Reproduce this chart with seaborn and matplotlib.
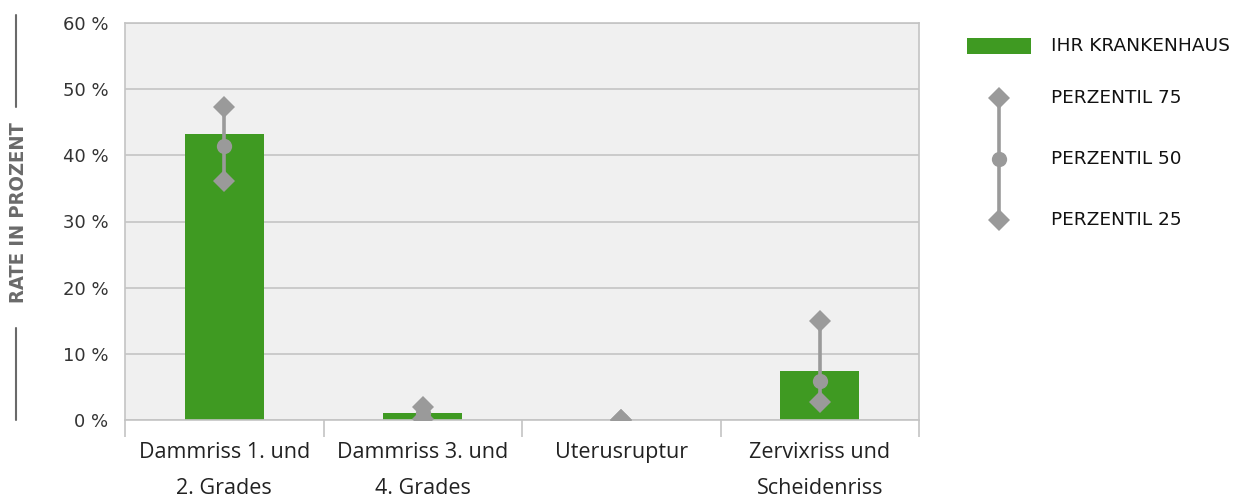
import matplotlib
matplotlib.use("Agg")
import matplotlib.pyplot as plt
from matplotlib.lines import Line2D
from matplotlib.patches import Rectangle
import seaborn as sns
import pandas as pd

categories = ["Dammriss 1. und\n2. Grades", "Dammriss 3. und\n4. Grades",
              "Uterusruptur", "Zervixriss und\nScheidenriss"]
hospital = [43.2, 1.1, 0.0, 7.4]
p75 = [47.3, 1.9, 0.0, 15.0]
p50 = [41.4, 1.0, 0.0, 5.9]
p25 = [36.1, 0.2, 0.0, 2.7]
yticks = [0, 10, 20, 30, 40, 50, 60]

GREEN = "#3f9a22"
GREY_MARK = "#9a9a9a"
GRID = "#c4c4c4"
BG = "#f0f0f0"

sns.set_theme(style="white")
plt.rcParams["font.family"] = ["DejaVu Sans"]

fig = plt.figure(figsize=(12.37, 5.01), dpi=100)
ax = fig.add_axes([125 / 1237, 1 - 420 / 501, (919 - 125) / 1237, (420 - 23) / 501])
ax.set_facecolor(BG)

df = pd.DataFrame({"cat": categories, "rate": hospital})
sns.barplot(data=df, x="cat", y="rate", color=GREEN, saturation=1, width=0.4,
            linewidth=0, ax=ax, zorder=2)

xs = list(range(len(categories)))
DS = 11.5
CS = 11
ax.vlines(xs, p25, p75, color=GREY_MARK, linewidth=2.6, zorder=3)
ax.plot(xs, p75, linestyle="none", marker="D", markersize=DS, markeredgewidth=0,
        color=GREY_MARK, zorder=4)
ax.plot(xs, p25, linestyle="none", marker="D", markersize=DS, markeredgewidth=0,
        color=GREY_MARK, zorder=4)
ax.plot(xs, p50, linestyle="none", marker="o", markersize=CS, markeredgewidth=0,
        color=GREY_MARK, zorder=4)

ax.set_ylim(0, 60)
ax.set_xlim(-0.5, len(categories) - 0.5)
ax.set_yticks(yticks)
ax.set_yticklabels([f"{v} %" for v in yticks], fontsize=13, color="#333333")
ax.yaxis.grid(True, color=GRID, linewidth=1.2, zorder=0)
ax.set_axisbelow(True)
ax.tick_params(axis="y", length=0, pad=12)

ax.set_xticks(xs)
ax.set_xticklabels(categories, fontsize=15.5, color="#222222", linespacing=1.9,
                   family="Open Sans")
ax.set_xticks([x - 0.5 for x in range(len(categories) + 1)], minor=True)
ax.tick_params(axis="x", which="major", length=0, pad=16)
ax.tick_params(axis="x", which="minor", length=12, width=1.2, color=GRID, bottom=True)
ax.set_xlabel("")
ax.set_ylabel("")

for side, sp in ax.spines.items():
    sp.set_visible(True)
    sp.set_color(GRID)
    sp.set_linewidth(1.2)

# vertical axis title with rules above and below
fig.text(19 / 1237, 1 - 213 / 501, "RATE IN PROZENT", rotation=90, ha="center",
         va="center", fontsize=14.5, fontweight="bold", color="#6a6a6a",
         fontstretch="condensed")
fig.add_artist(Line2D([16 / 1237, 16 / 1237], [1 - 15 / 501, 1 - 107 / 501],
                      color="#6a6a6a", linewidth=1.5))
fig.add_artist(Line2D([16 / 1237, 16 / 1237], [1 - 328 / 501, 1 - 420 / 501],
                      color="#6a6a6a", linewidth=1.5))

# legend
fig.add_artist(Rectangle((967 / 1237, 1 - 54 / 501), 64 / 1237, 16 / 501,
                         color=GREEN, linewidth=0, transform=fig.transFigure))
lx = 999 / 1237
fig.add_artist(Line2D([lx, lx], [1 - 98 / 501, 1 - 220 / 501], color=GREY_MARK,
                      linewidth=2.6))
for yy, mk in [(98, "D"), (159, "o"), (220, "D")]:
    fig.add_artist(Line2D([lx], [1 - yy / 501], marker=mk, color=GREY_MARK,
                          markeredgewidth=0,
                          markersize=DS if mk == "D" else CS, linestyle="none"))
for yy, txt in [(46, "IHR KRANKENHAUS"), (98, "PERZENTIL 75"),
                (159, "PERZENTIL 50"), (220, "PERZENTIL 25")]:
    fig.text(1051 / 1237, 1 - yy / 501, txt, ha="left", va="center", fontsize=13.3,
             color="#111111")

fig.savefig("out.png", dpi=100)
